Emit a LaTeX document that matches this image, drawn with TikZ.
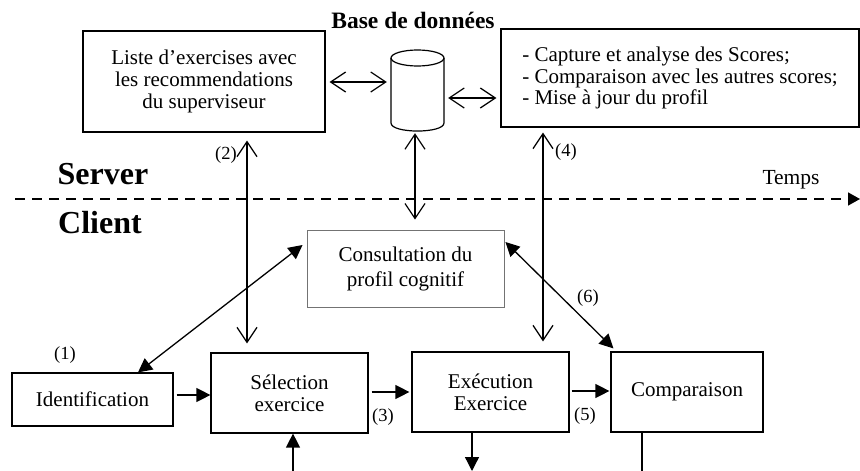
\documentclass[tikz,border=0pt]{standalone}
\usepackage{fontspec}
\setmainfont{Liberation Serif}
\usetikzlibrary{arrows.meta,calc}
\newcommand{\mainsz}{\fontsize{21}{22}\selectfont}
\newcommand{\smallsz}{\fontsize{18.5}{20}\selectfont}
\begin{document}
\begin{tikzpicture}[x=1pt,y=-1pt,
  box/.style={draw, line width=1.2pt, inner sep=0pt, align=center, font=\mainsz},
  graybox/.style={draw=black!55, line width=0.9pt, inner sep=0pt, align=center, font=\mainsz},
  lbl/.style={font=\smallsz, inner sep=0pt},
  big/.style={font=\fontsize{32}{34}\selectfont\bfseries, inner sep=0pt},
  openboth/.style={line width=1.2pt, {Straight Barb[length=15pt,width=20pt]}-{Straight Barb[length=15pt,width=20pt]}},
  fillboth/.style={line width=1.3pt, {Triangle[length=14pt,width=14pt]}-{Triangle[length=14pt,width=14pt]}},
  fillto/.style={line width=1.3pt, -{Triangle[length=14pt,width=14pt]}}]
\useasboundingbox (0,0) rectangle (860,471);
% server boxes
\node[box, minimum width=242pt, minimum height=101pt] (liste) at (204,81.5)
  {Liste d’exercises avec\\les recommendations\\du superviseur};
\node[box, minimum width=358pt, minimum height=98pt, align=left, font=\fontsize{21}{21.5}\selectfont] (score) at (680,78)
  {- Capture et analyse des Scores;\\- Comparaison avec les autres scores;\\- Mise à jour du profil};
% database
\node[minimum width=53pt, minimum height=81pt, inner sep=0pt] (db) at (417.5,90.5) {};
\draw[line width=1.2pt] (417.5,58) ellipse [x radius=26.5pt, y radius=8pt];
\draw[line width=1.2pt] (391,58) -- (391,123) .. controls (391,133.7) and (444,133.7) .. (444,123) -- (444,58);
\node[font=\fontsize{23.5}{24}\selectfont\bfseries, inner sep=0pt] (dbtitle) at (413,20) {Base de données};
% separator
\coordinate (t0) at (15,199);
\coordinate (t1) at (860,199);
\draw[line width=1.5pt, dash pattern=on 10pt off 7pt, -{Triangle[length=12pt,width=13pt]}] (t0) -- (t1);
\node[lbl, font=\fontsize{21.5}{22}\selectfont] (temps) at (791,180) {Temps};
\node[big] (server) at (103,174) {Server};
\node[big] (client) at (100,223) {Client};
% client boxes
\node[graybox, minimum width=197pt, minimum height=77pt, font=\fontsize{21}{25}\selectfont] (consult) at (405.5,268.5)
  {Consultation du\\profil cognitif};
\node[box, minimum width=161pt, minimum height=53pt] (ident) at (92.5,399.5) {Identification};
\node[box, minimum width=157pt, minimum height=80pt] (sel) at (289.5,393) {Sélection\\exercice};
\node[box, minimum width=157pt, minimum height=80pt] (exe) at (490.5,392) {Exécution\\Exercice};
\node[box, minimum width=152pt, minimum height=80pt] (comp) at (687,392) {Comparaison};
% labels
\node[lbl] (l1) at (65,355) {(1)};
\node[lbl] (l2) at (226,155) {(2)};
\node[lbl] (l3) at (383,417) {(3)};
\node[lbl] (l4) at (566,152) {(4)};
\node[lbl] (l5) at (585,416) {(5)};
\node[lbl] (l6) at (588,298) {(6)};
% server connectors
\draw[openboth, shorten <=4pt, shorten >=4pt] (liste.east |- 0,82) -- (db.west |- 0,82);
\draw[openboth, shorten <=4pt, shorten >=4pt] (db.east |- 0,98) -- (score.west |- 0,98);
\draw[openboth, shorten <=2pt, shorten >=10pt] (db.south -| 415,0) -- (consult.north -| 415,0);
\draw[openboth, shorten <=8pt, shorten >=9pt] (liste.south -| 247,0) -- (sel.north -| 247,0);
\draw[openboth, shorten <=5pt, shorten >=10pt] (score.south -| 543,0) -- (exe.north -| 543,0);
% client connectors
\draw[fillto, shorten <=3pt] (ident.east |- 0,395) -- (sel.west |- 0,395);
\draw[fillto, shorten <=3pt, shorten >=2pt] (sel.east |- 0,392) -- (exe.west |- 0,392);
\draw[fillto, shorten <=2pt, shorten >=1pt] (exe.east |- 0,391) -- (comp.west |- 0,391);
\draw[fillboth] ([xshift=45.5pt]ident.north) -- ([xshift=-4pt,yshift=23.5pt]consult.west);
\draw[fillboth] ([xshift=1pt,yshift=26.5pt]consult.east) -- ([xshift=3pt,yshift=3pt]comp.north west);
% bottom stubs
\coordinate (b1) at (293,471);
\coordinate (b2) at (472,471);
\coordinate (b3) at (642,471);
\draw[fillto] (b1) -- (b1 |- sel.south);
\draw[fillto] (b2 |- exe.south) -- (b2);
\draw[line width=1.3pt] (b3 |- comp.south) -- (b3);
\end{tikzpicture}
\end{document}
